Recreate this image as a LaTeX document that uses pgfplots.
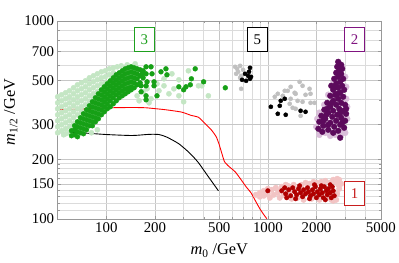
\documentclass[border=0pt]{standalone}
\usepackage{pgfplots}
\pgfplotsset{compat=1.18}
\usepackage{fontspec}
\setmainfont{Liberation Serif}
\definecolor{dgreen}{RGB}{22,160,22}
\definecolor{lgreen}{RGB}{196,230,196}
\definecolor{dpurple}{RGB}{92,10,92}
\definecolor{lpurple}{RGB}{218,190,218}
\definecolor{dred}{RGB}{176,0,0}
\definecolor{lpink}{RGB}{242,196,196}
\definecolor{lgray}{RGB}{192,192,192}
\definecolor{boxgreen}{RGB}{30,160,30}
\definecolor{boxpurple}{RGB}{128,20,128}
\definecolor{boxred}{RGB}{200,30,30}
\begin{document}
\begin{tikzpicture}
\begin{axis}[
  at={(0,0)}, anchor=south west,
  scale only axis, width=325bp, height=199bp,
  xmode=log, ymode=log,
  xmin=50, xmax=5000, ymin=100, ymax=1000,
  xtick={100,200,500,1000,2000,5000},
  xticklabels={100,200,500,1000,2000,5000},
  ytick={100,150,200,300,500,700,1000},
  yticklabels={100,150,200,300,500,700,1000},
  minor xtick={300,400,600,700,800,900,3000,4000},
  minor ytick={110,120,130,140,160,170,180,190,400,600,800,900},
  grid=both,
  major grid style={gray!45, line width=0.5pt},
  minor grid style={gray!28, line width=0.5pt},
  axis line style={gray!80},
  tick style={gray!80},
  major tick length=3bp, minor tick length=2bp,
  tick align=inside,
  /pgf/number format/assume math mode=true,
  tick label style={font=\fontsize{15}{17}\selectfont, text=black},
  label style={font=\fontsize{16.5}{18}\selectfont},
  xlabel={\textit{m}\textsubscript{0} /GeV},
  ylabel={\textit{m}\textsubscript{1/2} /GeV},
  xlabel style={at={(axis description cs:0.5,-0.16)}, anchor=center},
  ylabel style={at={(axis description cs:-0.145,0.54)}, anchor=center},
]
% light green background points
\addplot[only marks, mark=*, mark size=2.6bp, color=lgreen, mark options={draw=none, fill=lgreen}] coordinates {
(50.0,413.4)(50.0,385.5)(50.0,359.6)(50.0,335.3)(50.0,312.7)(50.0,291.6)(50.0,272.0)
(52.9,423.1)(52.9,394.6)(52.9,368.0)(52.9,343.2)(52.9,320.1)(52.9,298.5)(52.9,278.4)
(56.0,433.1)(56.0,403.9)(56.0,376.7)(56.0,351.3)(56.0,327.6)(56.0,305.5)(56.0,284.9)(56.0,268.9)
(59.2,443.2)(59.2,413.4)(59.2,385.5)(59.2,359.6)(59.2,335.3)(59.2,312.7)(59.2,291.6)
(62.7,459.0)(62.7,428.1)(62.7,399.2)(62.7,372.3)(62.7,347.2)(62.7,323.8)(62.7,302.0)
(66.3,475.3)(66.3,443.2)(66.3,413.4)(66.3,385.5)(66.3,359.6)(66.3,335.3)
(70.2,486.5)(70.2,453.7)(70.2,423.1)(70.2,394.6)(70.2,368.0)(70.2,347.2)
(74.3,497.9)(74.3,464.3)(74.3,433.1)(74.3,403.9)(74.3,376.7)
(78.6,515.6)(78.6,480.8)(78.6,448.4)(78.6,418.2)(78.6,390.0)
(83.2,527.7)(83.2,492.1)(83.2,459.0)(83.2,428.1)(83.2,403.9)
(88.0,540.1)(88.0,503.7)(88.0,469.8)(88.0,438.1)
(93.2,552.8)(93.2,515.6)(93.2,480.8)
(98.6,559.3)(98.6,521.6)(98.6,486.5)
(104.3,572.4)(104.3,533.9)
(110.4,579.1)(110.4,546.4)
(116.9,585.9)(123.7,592.7)(134.6,599.6)(150.8,606.6)
(155.1,418.2)(168.9,438.1)(178.7,453.7)(189.1,403.9)(159.6,394.6)(183.8,385.5)
(211.8,443.2)(227.4,469.8)(244.1,428.1)(205.9,480.8)(261.9,453.7)(254.7,540.1)
(281.2,503.7)(227.4,509.6)(322,559.3)(372,469.8)(390,469.8)(428,418.2)
(281.2,418.2)(301,390.0)(54.4,265.8)(59.2,272.0)(80.9,272.0)(88.0,281.6)
};
% dark green points
\addplot[only marks, mark=*, mark size=2.45bp, color=dgreen, mark options={draw=none, fill=dgreen}] coordinates {
(60.9,278.4)(60.9,262.7)
(63.6,295.0)(63.6,281.6)(63.6,265.8)
(66.3,309.1)(66.3,291.6)(66.3,275.2)(66.3,259.7)
(69.2,323.8)(69.2,305.5)(69.2,288.3)(69.2,272.0)
(72.2,339.2)(72.2,320.1)(72.2,302.0)(72.2,284.9)(72.2,268.9)
(75.4,355.4)(75.4,335.3)(75.4,316.4)(75.4,298.5)(75.4,281.6)
(78.6,372.3)(78.6,351.3)(78.6,331.4)(78.6,312.7)(78.6,295.0)
(82.0,390.0)(82.0,368.0)(82.0,347.2)(82.0,327.6)(82.0,309.1)(82.0,295.0)
(85.6,408.6)(85.6,385.5)(85.6,363.8)(85.6,343.2)(85.6,323.8)(85.6,309.1)
(89.3,428.1)(89.3,403.9)(89.3,381.1)(89.3,359.6)(89.3,339.2)(89.3,320.1)
(93.2,448.4)(93.2,423.1)(93.2,399.2)(93.2,376.7)(93.2,355.4)(93.2,335.3)
(97.2,464.3)(97.2,438.1)(97.2,413.4)(97.2,390.0)(97.2,368.0)(97.2,347.2)
(101.4,480.8)(101.4,453.7)(101.4,428.1)(101.4,403.9)(101.4,381.1)(101.4,359.6)
(105.8,497.9)(105.8,469.8)(105.8,443.2)(105.8,418.2)(105.8,394.6)(105.8,368.0)
(110.4,515.6)(110.4,486.5)(110.4,459.0)(110.4,433.1)(110.4,408.6)(110.4,381.1)
(115.2,533.9)(115.2,503.7)(115.2,475.3)(115.2,448.4)(115.2,423.1)(115.2,394.6)
(120.2,546.4)(120.2,515.6)(120.2,486.5)(120.2,459.0)(120.2,433.1)(120.2,408.6)
(125.5,559.3)(125.5,527.7)(125.5,497.9)(125.5,469.8)(125.5,443.2)(125.5,418.2)
(130.9,572.4)(130.9,540.1)(130.9,509.6)(130.9,480.8)(130.9,453.7)(130.9,428.1)
(136.5,579.1)(136.5,546.4)(136.5,515.6)(136.5,486.5)(136.5,459.0)(136.5,438.1)
(142.5,585.9)(142.5,552.8)(142.5,521.6)(142.5,492.1)(142.5,464.3)(142.5,448.4)
(148.7,579.1)(148.7,546.4)(148.7,515.6)(148.7,486.5)(148.7,459.0)
(155.1,572.4)(155.1,540.1)(155.1,509.6)(155.1,475.3)
(161.9,565.8)(161.9,527.7)(161.9,486.5)
(168.9,559.3)(168.9,515.6)
(176.2,585.9)(176.2,540.1)
(166.5,540.1)(191.8,540.1)(178.7,492.1)(197.4,492.1)(164.2,469.8)(176.2,469.8)
(197.4,469.8)(164.2,438.1)(176.2,418.2)(205.9,418.2)(176.2,399.2)(217.9,552.8)
(233.9,572.4)(237.2,533.9)(189.1,585.9)(355,572.4)(336,509.6)(400,492.1)
(331,475.3)(311,464.3)(281,464.3)(301,448.4)(545,459.0)
};
% gray points
\addplot[only marks, mark=*, mark size=2.1bp, color=lgray, mark options={draw=none, fill=lgray}] coordinates {
(627,585.9)(673,592.7)(654,552.8)(683,527.7)(673,515.6)(683,453.7)(636,540.1)(702,565.8)(645,572.4)
(1103,413.4)(1271,443.2)(1383,464.3)(1571,492.1)(1810,453.7)(1836,428.1)(1710,423.1)
(1464,433.1)(1383,403.9)(1527,394.6)(1639,390.0)(1836,385.5)(1942,385.5)(1364,381.1)
(1423,363.8)(1485,359.6)(1594,331.4)(1485,428.1)(1236,418.2)(1151,428.1)(1639,469.8)(1326,443.2)
};
% black points
\addplot[only marks, mark=*, mark size=2.1bp, color=black, mark options={draw=none, fill=black}] coordinates {
(775,579.1)(722,540.1)(754,527.7)(775,509.6)(733,497.9)(692,503.7)(764,552.8)(786,521.6)
(1043,368.0)(1184,372.3)(1201,394.6)(1271,403.9)(1151,339.2)(1289,335.3)(1594,351.3)(1710,347.2)
};
% light purple points
\addplot[only marks, mark=*, mark size=3.1bp, color=lpurple, mark options={draw=none, fill=lpurple}] coordinates {
(2881,585.9)(3006,521.6)(2537,486.5)(3049,464.3)(2364,423.1)(3049,403.9)(2235,376.7)
(3092,368.0)(2082,343.2)(2881,335.3)(2024,320.1)(3092,320.1)(2331,298.5)(2881,278.4)
(1996,291.6)(2266,272.0)(2610,265.8)(3006,272.0)(2082,265.8)(2432,262.7)(2841,265.8)
(2537,305.5)(2172,312.7)(2762,599.6)(2610,403.9)
};
% dark purple points
\addplot[only marks, mark=*, mark size=2.9bp, color=dpurple, mark options={draw=none, fill=dpurple}] coordinates {
(2723,620.9)(2841,599.6)(2685,585.9)(2881,572.4)(2762,559.3)(2647,546.4)(2841,540.1)
(2723,521.6)(2573,509.6)(2922,509.6)(2801,492.1)(2647,480.8)(2467,469.8)(2881,469.8)
(2723,459.0)(2537,448.4)(2964,448.4)(2801,433.1)(2610,423.1)(2432,418.2)(2922,413.4)
(2723,403.9)(2537,394.6)(2331,385.5)(2841,385.5)(2647,376.7)(3006,376.7)(2432,368.0)
(2762,359.6)(2235,355.4)(2537,351.3)(2922,351.3)(2364,343.2)(2685,335.3)(3049,339.2)
(2142,331.4)(2502,327.6)(2841,323.8)(2266,320.1)(2647,312.7)(2082,309.1)(3006,312.7)
(2432,305.5)(2801,298.5)(2203,295.0)(2573,291.6)(2053,284.9)(2964,288.3)(2364,281.6)
(2723,278.4)(2172,275.2)(2537,272.0)(2801,256.7)
(2610,464.3)(2331,359.6)(2203,312.7)(2881,305.5)(2364,298.5)(2685,428.1)(2502,385.5)
(2299,335.3)(3049,359.6)(2801,343.2)
};
% pink points
\addplot[only marks, mark=*, mark size=2.8bp, color=lpink, mark options={draw=none, fill=lpink}] coordinates {
(843,132.2)(892,135.3)(892,129.2)(944,138.5)(944,130.7)(999,133.7)(1028,127.7)(1057,140.1)
(1088,132.2)(1119,143.4)(1151,135.3)(1184,127.7)(1218,145.1)(1253,132.2)(1326,146.8)
(1364,136.9)(1403,126.2)(1443,148.5)(1527,127.7)(1616,148.5)(1663,124.7)(1710,152.0)
(1810,150.2)(1862,126.2)(1915,153.7)(2024,152.0)(2082,124.7)(2142,153.7)(2266,155.5)
(2331,127.7)(2398,152.0)(2467,124.7)(2537,157.4)(2610,153.7)(2685,159.2)(2723,148.5)
(2762,157.4)(2647,124.7)(2685,133.7)(2762,141.7)(2537,123.3)(2203,152.0)(1485,141.7)
(1289,148.5)(999,141.7)(1184,138.5)(2841,150.2)
};
% dark red points
\addplot[only marks, mark=*, mark size=2.3bp, color=dred, mark options={draw=none, fill=dred}] coordinates {
(999,138.5)(1218,138.5)(1271,143.4)(1289,133.7)(1345,140.1)(1383,130.7)(1423,143.4)
(1464,136.9)(1506,132.2)(1549,141.7)(1594,135.3)(1639,129.2)(1663,140.1)(1710,133.7)
(1759,143.4)(1784,136.9)(1836,130.7)(1888,140.1)(1915,133.7)(1968,145.1)(1996,127.7)
(2024,136.9)(2082,132.2)(2112,141.7)(2172,135.3)(2203,127.7)(2235,145.1)(2299,138.5)
(2331,132.2)(2364,141.7)(2432,135.3)(2467,127.7)(2502,145.1)(2537,138.5)(2573,130.7)
(2432,148.5)(2142,146.8)(1810,126.2)(1485,126.2)(1307,127.7)(1942,148.5)(2266,124.7)
(1571,146.8)
};
% black limit curve
\addplot[black, line width=0.9pt, smooth, tension=0.4] coordinates {
(50,272.0)(68.2,272.0)(100,266.5)(144.5,263.5)(183.8,267)(211.8,266.5)(233.9,259.7)
(258.3,249.2)(281.2,239.2)(309.2,224.4)(336,210.5)(372,191.9)(428.3,163.0)(494,138.5)
};
% red limit curve
\addplot[red, line width=0.9pt, smooth, tension=0.3] coordinates {
(50,355.4)(75.4,359.6)(104.3,363.8)(144.5,365)(176.2,363.8)(233.9,355.4)(292,346)
(335,333)(372,325.7)(410,302)(446,281.6)(479,259.7)(500,236.4)(521.8,210.5)(539,194.1)
(567.8,185.2)(627,172.8)(683,157.4)(733,145.1)(786,135.3)(843,121.9)(892,112.3)(944,104.8)(985,100)
};
% labels
\node[draw=boxgreen, text=boxgreen, line width=0.8pt, fill=white, minimum width=20bp, minimum height=24bp, inner sep=0pt, font=\fontsize{15}{17}\selectfont] at (axis cs:172,806) {3};
\node[draw=black, text=black, line width=0.8pt, fill=white, minimum width=20bp, minimum height=24bp, inner sep=0pt, font=\fontsize{15}{17}\selectfont] at (axis cs:861,806) {5};
\node[draw=boxpurple, text=boxpurple, line width=0.8pt, fill=white, minimum width=20bp, minimum height=24bp, inner sep=0pt, font=\fontsize{15}{17}\selectfont] at (axis cs:3440,806) {2};
\node[draw=boxred, text=boxred, line width=0.8pt, fill=white, minimum width=20bp, minimum height=24bp, inner sep=0pt, font=\fontsize{15}{17}\selectfont] at (axis cs:3440,134.5) {1};
\end{axis}
\path (-58bp,-44bp) rectangle (341bp,220bp);
\end{tikzpicture}
\end{document}
